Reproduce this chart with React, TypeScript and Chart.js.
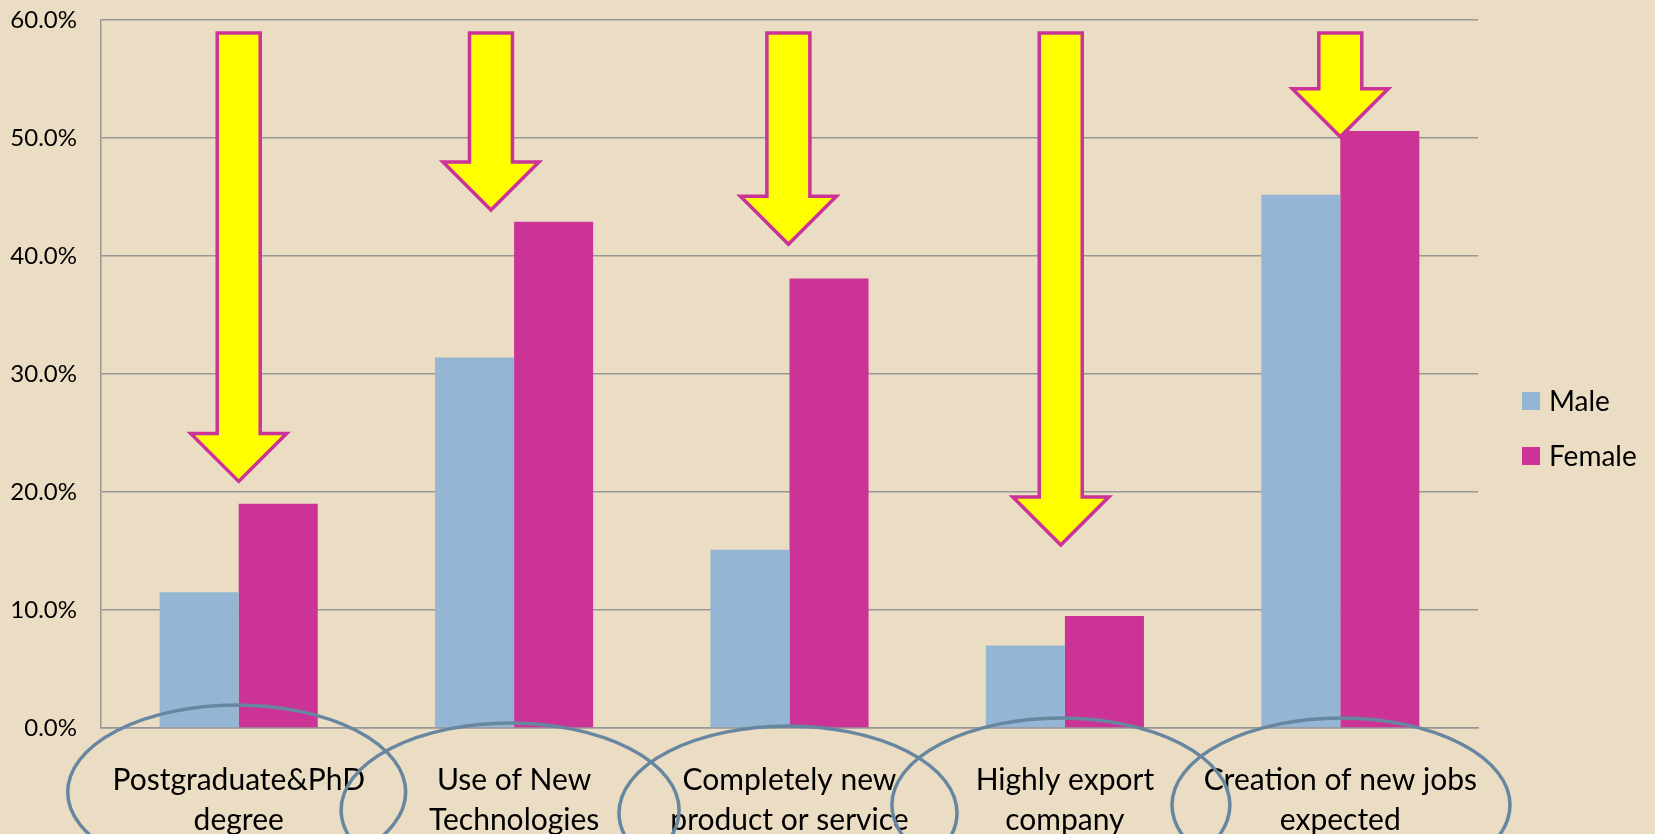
import React, { useEffect, useRef } from 'react';
import { Chart, registerables } from 'chart.js';

Chart.register(...registerables);

// ---- data ----
const categories: string[][] = [
  ['Postgraduate&PhD', 'degree'],
  ['Use of New', 'Technologies'],
  ['Completely new', 'product or service'],
  ['Highly export', 'company'],
  ['Creation of new jobs', 'expected'],
];
const seriesNames = ['Male', 'Female'];
const maleValues = [11.5, 31.4, 15.1, 7.0, 45.2];
const femaleValues = [19.0, 42.9, 38.1, 9.5, 50.6];
const yMin = 0;
const yMax = 60;
const yStep = 10;

// ---- annotations (arrows pointing at values, ellipses around labels) ----
const arrowTipValues = [20.9, 43.9, 41.0, 15.5, 50.1];
const arrowTopValue = 58.9;
const arrowShift = [0, -0.084, -0.004, -0.015, 0]; // in category widths
const ellipseShiftX = [-2, -4, -1.5, -4, 0.7];
const ellipseDropY = [64, 82, 85, 77, 77];

const COLORS = {
  bg: '#EBDDC3',
  male: '#94B6D4',
  female: '#CB3396',
  grid: '#979797',
  arrowFill: '#FFFF00',
  arrowStroke: '#CC3399',
  ellipse: '#6786A0',
  text: '#000000',
};
const FONT = 'Lato, "Noto Sans", sans-serif';

const overlayPlugin = {
  id: 'overlay',
  afterDraw(chart: any) {
    const { ctx, scales } = chart;
    const x = scales.x;
    const y = scales.y;
    const area = chart.chartArea;
    const catW = (area.right - area.left) / categories.length;
    ctx.save();

    // arrows
    const shaftW = 43;
    const headW = 96;
    const headL = 48;
    arrowTipValues.forEach((tipV, i) => {
      const cx = x.getPixelForValue(i) + arrowShift[i] * catW;
      const top = y.getPixelForValue(arrowTopValue);
      const tip = y.getPixelForValue(tipV);
      const base = tip - headL;
      ctx.beginPath();
      ctx.moveTo(cx - shaftW / 2, top);
      ctx.lineTo(cx + shaftW / 2, top);
      ctx.lineTo(cx + shaftW / 2, base);
      ctx.lineTo(cx + headW / 2, base);
      ctx.lineTo(cx, tip);
      ctx.lineTo(cx - headW / 2, base);
      ctx.lineTo(cx - shaftW / 2, base);
      ctx.closePath();
      ctx.fillStyle = COLORS.arrowFill;
      ctx.fill();
      ctx.lineWidth = 3.5;
      ctx.lineJoin = 'miter';
      ctx.strokeStyle = COLORS.arrowStroke;
      ctx.stroke();
    });

    // ellipses
    categories.forEach((_, i) => {
      const cx = x.getPixelForValue(i) + ellipseShiftX[i];
      const cy = area.bottom + ellipseDropY[i];
      ctx.beginPath();
      ctx.ellipse(cx, cy, 169, 87, 0, 0, Math.PI * 2);
      ctx.lineWidth = 3.5;
      ctx.strokeStyle = COLORS.ellipse;
      ctx.stroke();
    });

    // legend
    const datasets = chart.data.datasets;
    const lx = area.right + 44;
    const ly0 = (area.top + area.bottom) / 2 + 27;
    ctx.font = `28px ${FONT}`;
    ctx.textBaseline = 'middle';
    ctx.textAlign = 'left';
    datasets.forEach((ds: any, i: number) => {
      const cy = ly0 + i * 55;
      ctx.fillStyle = ds.backgroundColor;
      ctx.fillRect(lx, cy - 9, 18, 18);
      ctx.fillStyle = COLORS.text;
      ctx.fillText(ds.label, lx + 27, cy + 1);
    });

    ctx.restore();
  },
};

export default function App() {
  const canvasRef = useRef<HTMLCanvasElement | null>(null);

  useEffect(() => {
    document.body.style.margin = '0';
    const canvas = canvasRef.current;
    if (!canvas) return;
    const chart = new Chart(canvas, {
      type: 'bar',
      data: {
        labels: categories,
        datasets: [
          {
            label: seriesNames[0],
            data: maleValues,
            backgroundColor: COLORS.male,
            categoryPercentage: 0.574,
            barPercentage: 1,
          },
          {
            label: seriesNames[1],
            data: femaleValues,
            backgroundColor: COLORS.female,
            categoryPercentage: 0.574,
            barPercentage: 1,
          },
        ],
      },
      options: {
        animation: false,
        responsive: true,
        maintainAspectRatio: false,
        devicePixelRatio: 1,
        layout: { padding: { top: 20, right: 177, bottom: 0, left: 0 } },
        plugins: {
          legend: { display: false },
          tooltip: { enabled: false },
        },
        scales: {
          x: {
            grid: { display: false, drawTicks: false },
            border: { display: true, color: COLORS.grid, width: 1.5 },
            ticks: {
              color: COLORS.text,
              font: { family: FONT, size: 30, lineHeight: 1.31 },
              padding: 33,
              maxRotation: 0,
              autoSkip: false,
            },
            afterFit: (s: any) => {
              s.height = 106;
              s.paddingTop = 0;
              s.paddingBottom = 0;
            },
          },
          y: {
            min: yMin,
            max: yMax,
            grid: { color: COLORS.grid, lineWidth: 1.5, drawTicks: false },
            border: { display: true, color: COLORS.grid, width: 1.5 },
            ticks: {
              stepSize: yStep,
              color: COLORS.text,
              font: { family: FONT, size: 24 },
              padding: 24,
              callback: (v: any) => Number(v).toFixed(1) + '%',
            },
            afterFit: (s: any) => {
              s.width = 101;
              s.paddingTop = 0;
              s.paddingBottom = 0;
            },
          },
        },
      },
      plugins: [overlayPlugin],
    });
    return () => chart.destroy();
  }, []);

  return (
    <div
      style={{
        position: 'fixed',
        left: 0,
        top: 0,
        width: 1655,
        height: 834,
        background: COLORS.bg,
      }}
    >
      <canvas ref={canvasRef} />
    </div>
  );
}
